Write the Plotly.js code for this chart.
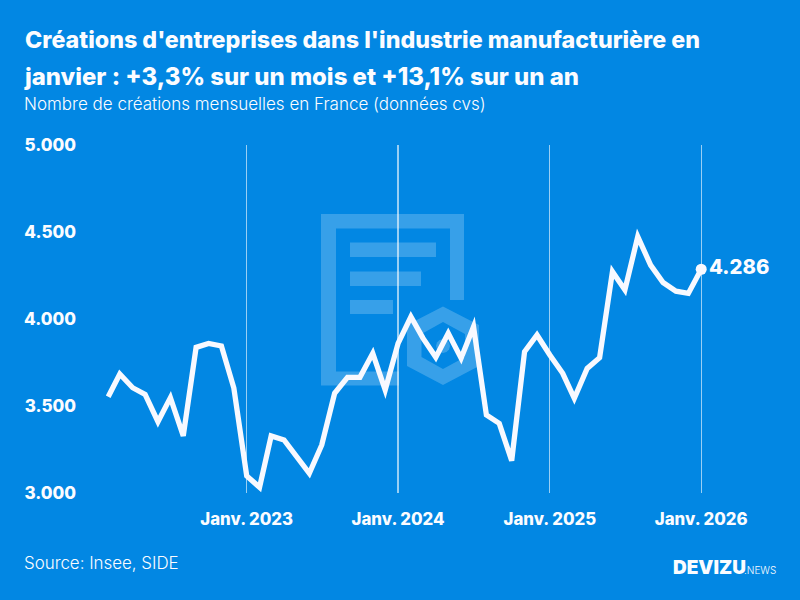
<!DOCTYPE html>
<html><head><meta charset="utf-8">
<script src="https://cdn.plot.ly/plotly-3.0.1.min.js"></script>
<style>
html,body{margin:0;padding:0;background:#0287e3;}
.js-line{stroke-linejoin:miter !important;stroke-miterlimit:4 !important;}
</style></head><body><div id="c" style="width:800px;height:600px"></div>
<script>
const titleLine1 = "Créations d'entreprises dans l'industrie manufacturière en";
const titleLine2 = "janvier : +3,3% sur un mois et +13,1% sur un an";
const subtitle = "Nombre de créations mensuelles en France (données cvs)";
const sourceText = "Source: Insee, SIDE";
const months = ["2022-02","2022-03","2022-04","2022-05","2022-06","2022-07","2022-08","2022-09","2022-10","2022-11","2022-12",
"2023-01","2023-02","2023-03","2023-04","2023-05","2023-06","2023-07","2023-08","2023-09","2023-10","2023-11","2023-12",
"2024-01","2024-02","2024-03","2024-04","2024-05","2024-06","2024-07","2024-08","2024-09","2024-10","2024-11","2024-12",
"2025-01","2025-02","2025-03","2025-04","2025-05","2025-06","2025-07","2025-08","2025-09","2025-10","2025-11","2025-12","2026-01"];
const creations = [3553,3684,3605,3567,3410,3548,3328,3837,3860,3845,3603,
3098,3033,3328,3305,3208,3113,3276,3573,3665,3665,3803,3592,
3860,4013,3890,3780,3918,3775,3956,3448,3400,3186,3812,3908,
3793,3688,3544,3716,3778,4272,4167,4473,4310,4210,4160,4147,4286];
const xTickVals = ["2023-01-01","2024-01-01","2025-01-01","2026-01-01"];
const xTickText = ["Janv. 2023","Janv. 2024","Janv. 2025","Janv. 2026"];
const yTickVals = [3000,3500,4000,4500,5000];
const yTickText = ["3.000","3.500","4.000","4.500","5.000"];
const lastLabel = "4.286";

const L=80,T=145,W=700,H=348;
const px=x=>(x-L)/W, py=y=>1-(y-T)/H;
const poly=pts=>"M"+pts.map(p=>px(p[0]).toFixed(5)+","+py(p[1]).toFixed(5)).join("L")+"Z";
const wm="rgba(255,255,255,0.21)";
const wmShape=path=>({type:"path",xref:"paper",yref:"paper",path,fillcolor:wm,line:{width:0},layer:"below"});
const hexOuter=[[443,306.5],[479,325],[479,366],[443,385],[407,366],[407,325]];
const hexInner=[[443,322],[465,334],[465,357],[443,369],[421.5,357],[421.5,334]];
const circle=[];
for(const a of [0,30,60,90,120,150,180,210,240,270,300,330]){circle.push([443+7*Math.cos(a*Math.PI/180),346+7*Math.sin(a*Math.PI/180)]);}
const shapes=[
 wmShape(poly([[321,214],[464,214],[464,300],[450,300],[450,228.5],[336,228.5],[336,371.5],[399,371.5],[399,385.5],[321,385.5]])),
 wmShape(poly([[350,242.5],[436,242.5],[436,257],[350,257]])),
 wmShape(poly([[350,271.5],[421,271.5],[421,286],[350,286]])),
 wmShape(poly([[350,300],[393,300],[393,314],[350,314]])),
 wmShape(poly(hexOuter)+poly(hexInner.slice().reverse())),
 wmShape(poly(circle))
];
const F="Inter";
const note=(text,x,y,size,weight)=>({text,xref:"paper",yref:"paper",x:px(x-3),y:py(y),xanchor:"left",yanchor:"middle",showarrow:false,
  font:{family:F,size,color:"#fbfcff",weight:weight||400},align:"left"});
const annotations=[
 note(titleLine2,25,76,23.9,800),
 note(subtitle,25,104,17,300),
 note(sourceText,25,563,16.9,300),
 note("DEVIZU",674,567,19,900),
 note(".NEWS",745,570,10,300)
];
Plotly.newPlot("c",[
 {type:"scatter",mode:"lines",x:months.map(m=>m+"-01"),y:creations,line:{color:"#f8f9ff",width:5.3,shape:"linear"},hoverinfo:"x+y"},
 {type:"scatter",mode:"markers+text",x:[months[months.length-1]+"-01"],y:[creations[creations.length-1]],text:[lastLabel],
  textposition:"middle right",textfont:{family:F,size:20.3,color:"#fbfcff",weight:800},marker:{size:11,color:"#f8f9ff"},cliponaxis:false}
],{
 width:800,height:600,showlegend:false,paper_bgcolor:"#0287e3",plot_bgcolor:"rgba(0,0,0,0)",
 margin:{l:L,r:800-L-W,t:T,b:600-T-H},
 title:{text:titleLine1,x:25/800,xanchor:"left",y:1-40/600,yanchor:"middle",font:{family:F,size:23.25,color:"#fbfcff",weight:800}},
 xaxis:{type:"date",range:["2021-11-25","2026-07-10"],tickmode:"array",tickvals:xTickVals,ticktext:xTickText,
  showgrid:true,gridcolor:"rgba(255,255,255,0.6)",gridwidth:1.3,zeroline:false,showline:false,ticks:"",ticklen:0,ticklabelstandoff:14,
  tickfont:{family:F,size:16.8,color:"#fbfcff",weight:800}},
 yaxis:{range:[3000,5000],tickmode:"array",tickvals:yTickVals,ticktext:yTickText,showgrid:false,zeroline:false,showline:false,ticks:"",ticklabelstandoff:3,
  tickfont:{family:F,size:17,color:"#fbfcff",weight:800}},
 shapes,annotations
},{displayModeBar:false,staticPlot:true});
</script></body></html>
